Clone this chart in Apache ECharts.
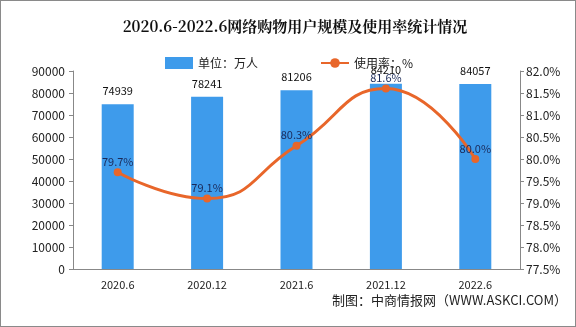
<!DOCTYPE html>
<html><head><meta charset="utf-8">
<script src="https://cdn.jsdelivr.net/npm/echarts@6/dist/echarts.min.js"></script>
<style>html,body{margin:0;padding:0;background:#fff}#c{width:576px;height:327px;box-sizing:border-box;border:1px solid #8a8a8a}</style>
</head><body><div id="c"></div>
<script>
const categories = ['2020.6','2020.12','2021.6','2021.12','2022.6'];
const users = [74939, 78241, 81206, 84210, 84057];
const rate = [79.7, 79.1, 80.3, 81.6, 80.0];
const font = '"Noto Sans CJK SC", "DejaVu Sans", sans-serif';
const chart = echarts.init(document.getElementById('c'));
chart.setOption({
  animation: false,
  textStyle: {fontFamily: font},
  title: {text: '2020.6-2022.6网络购物用户规模及使用率统计情况', left: 289, textAlign: 'center', top: 13,
    textStyle: {fontSize: 15, fontWeight: 'bold', color: '#111', fontFamily: '"Noto Serif CJK SC", "Noto Sans CJK SC", serif'}},
  legend: {top: 51, left: 159, itemGap: 62, itemWidth: 28, itemHeight: 12,
    textStyle: {fontSize: 12, color: '#222'},
    data: [{name: '单位：万人', icon: 'rect'}, {name: '使用率：%'}]},
  grid: {left: 72, right: 55, top: 70, bottom: 57},
  xAxis: {type: 'category', data: categories,
    axisLine: {lineStyle: {color: '#888'}}, axisTick: {alignWithLabel: false, length: 5, lineStyle: {color: '#888'}},
    axisLabel: {color: '#222', fontSize: 11, margin: 10}},
  yAxis: [
    {type: 'value', min: 0, max: 90000, interval: 10000, splitLine: {show: false},
     axisLine: {show: true, lineStyle: {color: '#888'}}, axisTick: {show: true, length: 4, lineStyle: {color: '#888'}},
     axisLabel: {color: '#222', fontSize: 12, margin: 8, formatter: v => String(v)}},
    {type: 'value', min: 77.5, max: 82, interval: 0.5, splitLine: {show: false},
     axisLine: {show: true, lineStyle: {color: '#888'}}, axisTick: {show: true, length: 4, lineStyle: {color: '#888'}},
     axisLabel: {color: '#222', fontSize: 12, margin: 6, formatter: v => v.toFixed(1) + '%'}}
  ],
  series: [
    {name: '单位：万人', type: 'bar', data: users, barWidth: 32, itemStyle: {color: '#3E9BEB'},
     label: {show: true, position: 'top', color: '#111', fontSize: 11, distance: 8}},
    {name: '使用率：%', type: 'line', yAxisIndex: 1, data: rate, smooth: true, symbol: 'circle', symbolSize: 8,
     lineStyle: {color: '#E8662A', width: 3}, itemStyle: {color: '#E8662A'},
     label: {show: true, position: 'top', color: '#1a2a5a', fontSize: 11, distance: 1, formatter: p => p.value.toFixed(1) + '%'}}
  ],
  graphic: [
    {type: 'text', right: 8, top: 293, style: {text: '制图：中商情报网（WWW.ASKCI.COM）', fill: '#222', font: '13px ' + font}}
  ]
});
</script></body></html>
